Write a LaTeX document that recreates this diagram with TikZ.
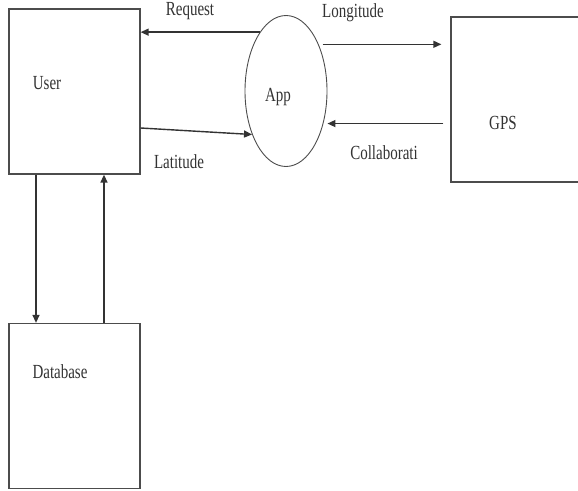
\documentclass[tikz,border=0pt]{standalone}
\usepackage{fontspec}
\setmainfont{Liberation Serif}[FakeStretch=0.75]
\usetikzlibrary{shapes.geometric,arrows.meta}

\tikzset{
  box/.style={draw=black!70,line width=1.3pt,rectangle,inner sep=0pt,
    minimum width=131pt,minimum height=165pt},
  txt/.style={inner sep=0pt,text=black!80,font=\fontsize{20}{24}\selectfont},
  arr/.style={draw=black!80,line width=1.4pt,-{Triangle[length=8pt,width=7pt]}}
}

\begin{document}
\begin{tikzpicture}[x=1pt,y=-1pt]
\useasboundingbox (0,0) rectangle (578,490);
\clip (0,0) rectangle (578,490);
% Draw boxes
\node[box] (user) at (74.5,91.5) {};
\node[box] (db) at (74.5,406) {};
\node[box,minimum width=140pt] (gps) at (521,99.5) {};
% Draw ellipse
\node[draw=black!70,line width=0.9pt,ellipse,inner sep=0pt,
  minimum width=82pt,minimum height=151pt] (app) at (286,91) {};
% Draw labels
\node[txt] (userlbl) at (47,83) {User};
\node[txt] (dblbl) at (60,372) {Database};
\node[txt] (gpslbl) at (503,123) {GPS};
\node[txt] (applbl) at (278,97) {App};
\node[txt] (reqlbl) at (190,11) {Request};
\node[txt] (lonlbl) at (353,13) {Longitude};
\node[txt] (latlbl) at (179,162) {Latitude};
\node[txt] (collbl) at (384,153) {Collaborati};
% Draw arrows
\draw[arr] (app.114) -- (app.114 -| user.east);
\draw[arr] (user.east |- 0,128) -- (app.232);
\draw[arr,shorten <=4pt,shorten >=9pt] (app.55) -- (app.55 -| gps.west);
\draw[arr,shorten <=7pt,shorten >=4pt] (gps.west |- app.-41) -- (app.-41);
\draw[arr] ([xshift=-38.5pt]user.south) -- ([xshift=-38.5pt]db.north);
\draw[arr] ([xshift=29.5pt]db.north) -- ([xshift=29.5pt]user.south);
\end{tikzpicture}
\end{document}
